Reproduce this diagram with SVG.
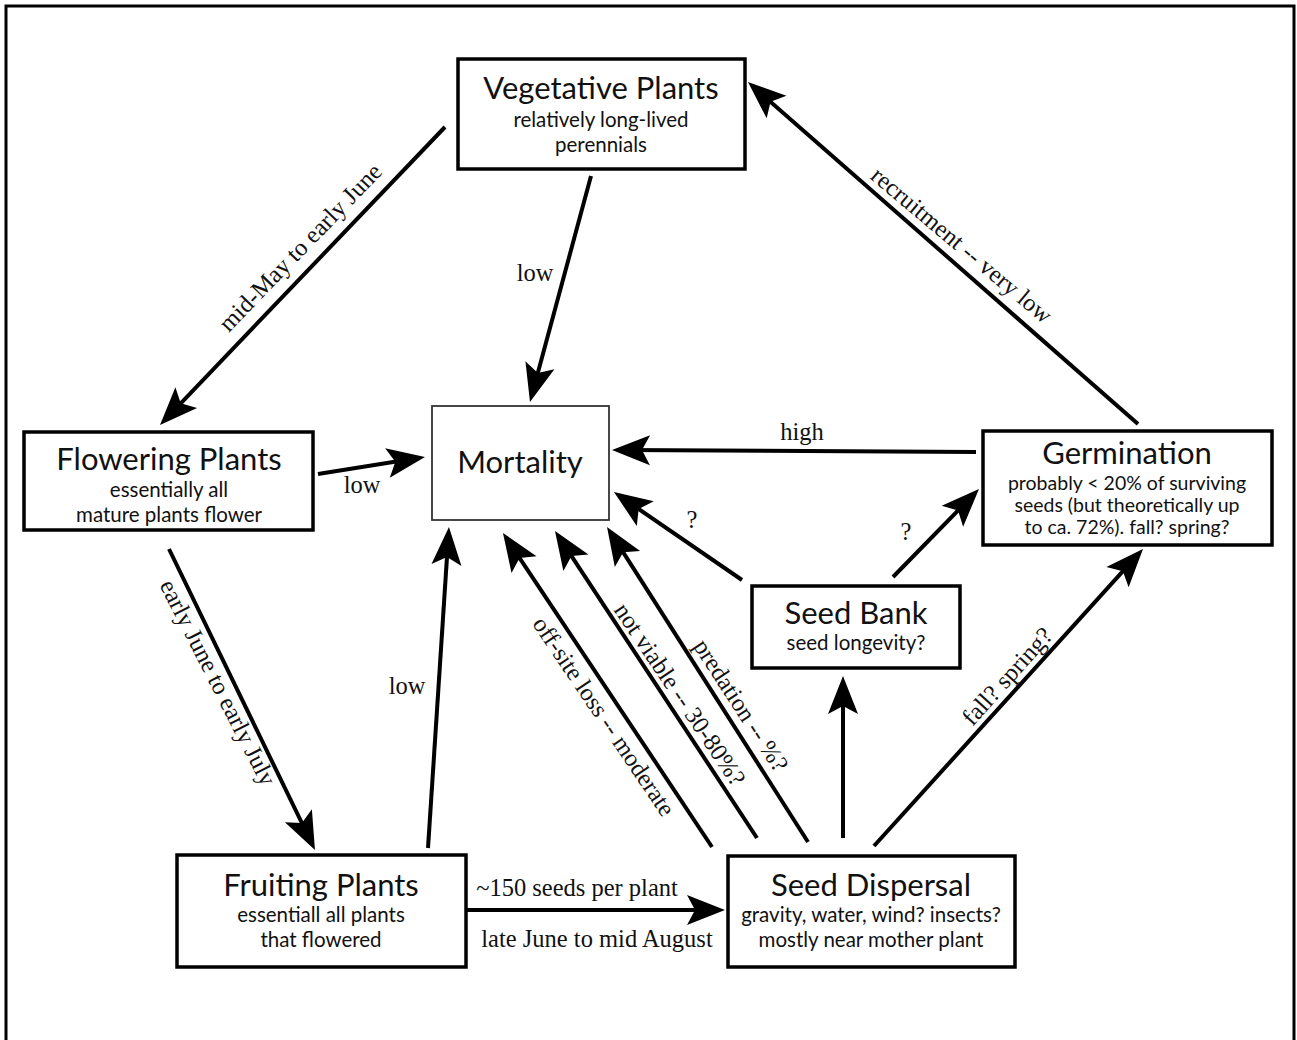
<svg xmlns="http://www.w3.org/2000/svg" width="1297" height="1040" viewBox="0 0 1297 1040">
<style>
.box{fill:#fff;stroke:#000;stroke-width:3.5}
.mbox{fill:#fff;stroke:#333;stroke-width:1.8}
.t{font-family:Lato,"Noto Sans",sans-serif;font-size:31px;fill:#111;text-anchor:middle}
.s{font-family:Lato,"Noto Sans",sans-serif;font-size:20.5px;fill:#111;text-anchor:middle}
.g{font-size:19.5px}
.l{font-family:"Liberation Serif","Times New Roman",serif;font-size:24.5px;fill:#111;text-anchor:middle}
.c{stroke:#000;stroke-width:4;fill:none;marker-end:url(#ah)}
</style>
<defs>
<marker id="ah" markerUnits="userSpaceOnUse" viewBox="-30 -16 42 32" markerWidth="42" markerHeight="32" refX="0" refY="0" orient="auto" overflow="visible">
<path d="M10,0 L-28,-15 L-20,0 L-28,15 Z" fill="#000"/>
</marker>
</defs>
<rect x="6" y="6" width="1288" height="1050" fill="#fff" stroke="#000" stroke-width="3"/>
<g id="connectors">
<line class="c" x1="445" y1="127" x2="166.9" y2="417.8"/>
<line class="c" x1="591" y1="176" x2="532.6" y2="392.3"/>
<line class="c" x1="1138" y1="424" x2="755.5" y2="88.6"/>
<line class="c" x1="318" y1="474" x2="415.1" y2="458.6"/>
<line class="c" x1="976" y1="452" x2="622" y2="450"/>
<line class="c" x1="742" y1="580" x2="622.2" y2="497.7"/>
<line class="c" x1="893" y1="577" x2="972" y2="496.2"/>
<line class="c" x1="169" y1="549" x2="310.6" y2="841"/>
<line class="c" x1="428" y1="848" x2="448.3" y2="537"/>
<line class="c" x1="467" y1="910" x2="715" y2="910"/>
<line class="c" x1="712" y1="847" x2="508.5" y2="541.3"/>
<line class="c" x1="757" y1="838" x2="560.5" y2="539.4"/>
<line class="c" x1="808" y1="842" x2="612.4" y2="535.4"/>
<line class="c" x1="843" y1="838" x2="843" y2="686"/>
<line class="c" x1="874" y1="846" x2="1136.3" y2="556.4"/>
<text class="l" transform="translate(301,248) rotate(-46)" y="7">mid-May to early June</text>
<text class="l" x="535" y="281">low</text>
<text class="l" transform="translate(961,246) rotate(40)" y="7">recruitment -- very low</text>
<text class="l" x="362" y="493">low</text>
<text class="l" x="802" y="440">high</text>
<text class="l" x="692" y="528">?</text>
<text class="l" x="906" y="540">?</text>
<text class="l" transform="translate(217,683) rotate(63)" y="7">early June to early July</text>
<text class="l" x="407" y="694">low</text>
<text class="l" x="577" y="896">~150 seeds per plant</text>
<text class="l" x="597" y="947">late June to mid August</text>
<text class="l" transform="translate(603,717) rotate(56)" y="7">off-site loss -- moderate</text>
<text class="l" transform="translate(679,695) rotate(56)" y="7">not viable -- 30-80%?</text>
<text class="l" transform="translate(740,706) rotate(57)" y="7">predation -- %?</text>
<text class="l" transform="translate(1008,677) rotate(-48)" y="7">fall? spring?</text>
</g>
<g id="vegetative">
<rect class="box" x="458" y="59" width="287" height="110"/>
<text class="t" x="601" y="99">Vegetative Plants</text>
<text class="s" x="601" y="127">relatively long-lived</text>
<text class="s" x="601" y="152">perennials</text>
</g>
<g id="flowering">
<rect class="box" x="24" y="432" width="289" height="98"/>
<text class="t" x="169" y="470">Flowering Plants</text>
<text class="s" x="169" y="497">essentially all</text>
<text class="s" x="169" y="522">mature plants flower</text>
</g>
<g id="mortality">
<rect class="mbox" x="432" y="406" width="177" height="114"/>
<text class="t" x="520" y="473">Mortality</text>
</g>
<g id="germination">
<rect class="box" x="983" y="431" width="289" height="114"/>
<text class="t" x="1127" y="464">Germination</text>
<text class="s g" x="1127" y="490">probably &lt; 20% of surviving</text>
<text class="s g" x="1127" y="512">seeds (but theoretically up</text>
<text class="s g" x="1127" y="534">to ca. 72%). fall? spring?</text>
</g>
<g id="seedbank">
<rect class="box" x="752" y="586" width="208" height="82"/>
<text class="t" x="856" y="624">Seed Bank</text>
<text class="s" x="856" y="650">seed longevity?</text>
</g>
<g id="fruiting">
<rect class="box" x="177" y="855" width="289" height="112"/>
<text class="t" x="321" y="896">Fruiting Plants</text>
<text class="s" x="321" y="922">essentiall all plants</text>
<text class="s" x="321" y="947">that flowered</text>
</g>
<g id="dispersal">
<rect class="box" x="728" y="856" width="287" height="111"/>
<text class="t" x="871" y="896">Seed Dispersal</text>
<text class="s" x="871" y="922">gravity, water, wind? insects?</text>
<text class="s" x="871" y="947">mostly near mother plant</text>
</g>
</svg>
